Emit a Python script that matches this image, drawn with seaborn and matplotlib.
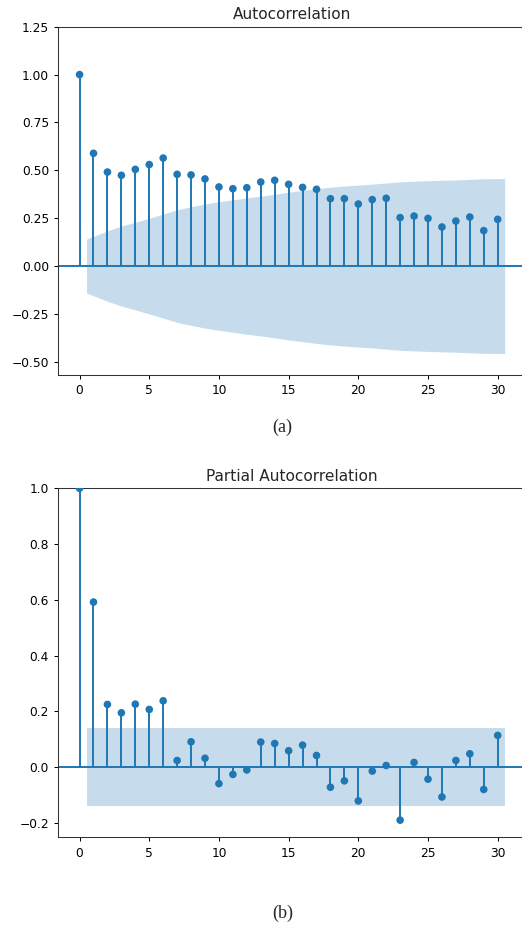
import numpy as np
import matplotlib
matplotlib.use("Agg")
import matplotlib.pyplot as plt
import seaborn as sns

# lags 0..30
lags = np.arange(31)

acf_vals = [1.000, 0.589, 0.491, 0.474, 0.505, 0.530, 0.564, 0.479, 0.476, 0.455,
            0.413, 0.404, 0.409, 0.439, 0.448, 0.427, 0.411, 0.401, 0.352, 0.352,
            0.324, 0.347, 0.354, 0.253, 0.261, 0.249, 0.204, 0.235, 0.256, 0.185,
            0.244]

# half-width of the ACF confidence band, lags 1..30
acf_band = [0.141, 0.184, 0.209, 0.229, 0.250, 0.272, 0.294, 0.310, 0.324, 0.336,
            0.346, 0.356, 0.365, 0.375, 0.386, 0.395, 0.404, 0.412, 0.418, 0.423,
            0.428, 0.434, 0.440, 0.443, 0.446, 0.448, 0.450, 0.453, 0.456, 0.457]

pacf_vals = [1.000, 0.592, 0.225, 0.195, 0.226, 0.207, 0.238, 0.024, 0.091, 0.032,
             -0.059, -0.026, -0.010, 0.090, 0.085, 0.059, 0.079, 0.042, -0.072, -0.049,
             -0.121, -0.014, 0.006, -0.190, 0.017, -0.043, -0.107, 0.024, 0.048, -0.080,
             0.114]

# PACF band is flat
pacf_band = [0.141] * 30

xticks = [0, 5, 10, 15, 20, 25, 30]
acf_yticks = [-0.50, -0.25, 0.00, 0.25, 0.50, 0.75, 1.00, 1.25]
pacf_yticks = [-0.2, 0.0, 0.2, 0.4, 0.6, 0.8, 1.0]

sns.set_style("ticks")
plt.rcParams["font.family"] = ["DejaVu Sans"]
plt.rcParams["axes.linewidth"] = 0.75
plt.rcParams["xtick.major.width"] = 0.75
plt.rcParams["ytick.major.width"] = 0.75
plt.rcParams["xtick.major.size"] = 3.2
plt.rcParams["ytick.major.size"] = 3.2

blue = "#1f77b4"

fig = plt.figure(figsize=(5.22, 9.25), dpi=100)
ax1 = fig.add_axes([0.1117, 0.5946, 0.8958, 0.3765])
ax2 = fig.add_axes([0.1117, 0.0948, 0.8958, 0.3773])


def draw_corr(ax, vals, band, title, ylim, yticks, fmt):
    vals = np.asarray(vals)
    band = np.asarray(band)
    ax.vlines(lags, 0, vals, color=blue, linewidth=1.4)
    ax.axhline(0, color=blue, linewidth=1.4)
    sns.scatterplot(x=lags, y=vals, ax=ax, color=blue, s=30, edgecolor="none",
                    legend=False, zorder=3)
    bx = lags[1:].astype(float)
    bx[0] -= 0.5
    bx[-1] += 0.5
    ax.fill_between(bx, -band, band, color=blue, alpha=0.25, linewidth=0)
    ax.set_xlim(-1.525, 32.025)
    ax.set_ylim(*ylim)
    ax.set_xticks(xticks)
    ax.set_yticks(yticks)
    ax.set_yticklabels([fmt.format(t).replace("-", "\u2212") for t in yticks])
    ax.tick_params(labelsize=8.8, colors="black")
    for sp in ax.spines.values():
        sp.set_color("#333333")
    ax.set_title(title, fontsize=11.1, pad=5.5)
    ax.set_xlabel("")
    ax.set_ylabel("")


draw_corr(ax1, acf_vals, acf_band, "Autocorrelation", (-0.569, 1.25),
          acf_yticks, "{:.2f}")
draw_corr(ax2, pacf_vals, pacf_band, "Partial Autocorrelation", (-0.2515, 1.0),
          pacf_yticks, "{:.1f}")

fig.text(282.5 / 522, 1 - 427.3 / 925, "(a)", ha="center", va="center",
         fontsize=13, family=["Liberation Serif", "DejaVu Serif"])
fig.text(282.5 / 522, 1 - 913.5 / 925, "(b)", ha="center", va="center",
         fontsize=13, family=["Liberation Serif", "DejaVu Serif"])

fig.savefig("out.png", dpi=100)
plt.close(fig)
